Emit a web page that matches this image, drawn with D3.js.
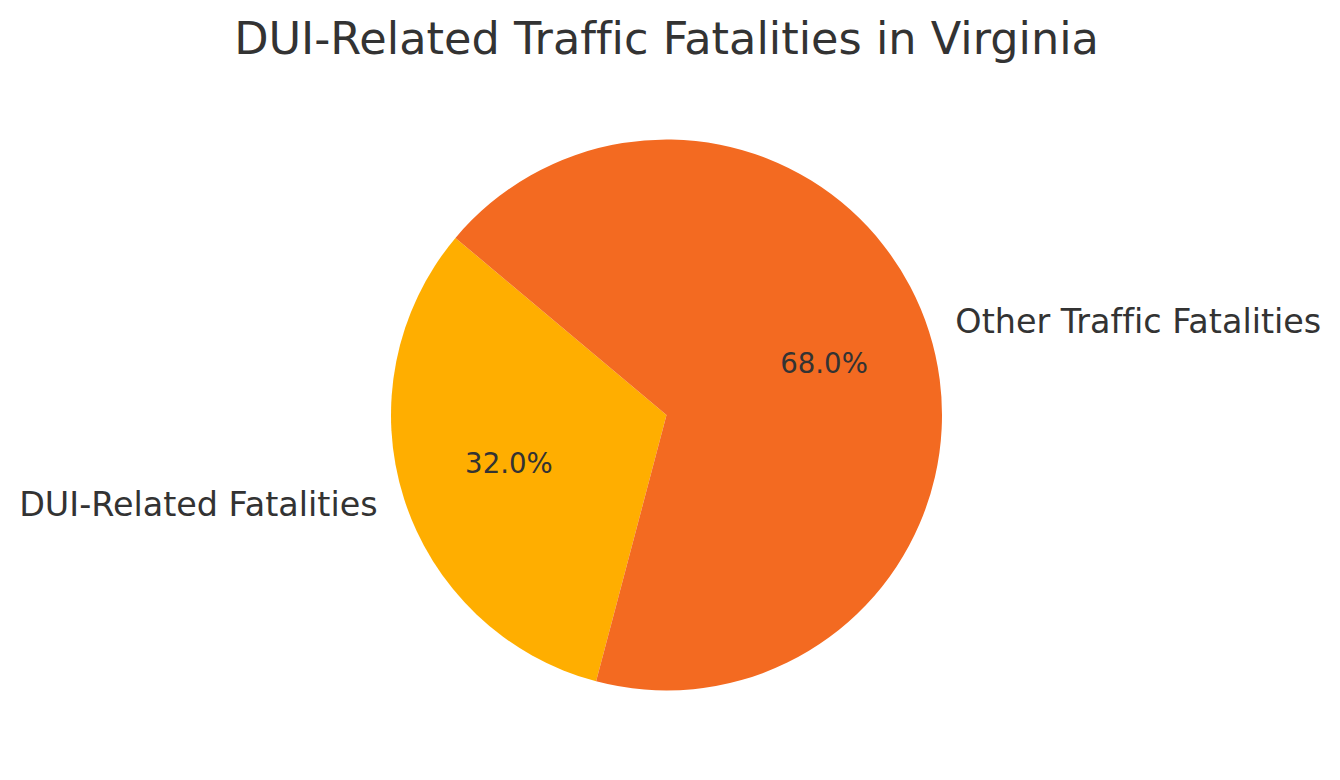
<!DOCTYPE html>
<html>
<head>
<meta charset="utf-8">
<script src="https://cdn.jsdelivr.net/npm/d3@7"></script>
<style>
  body { margin: 0; background: #fff; }
  text { font-family: "DejaVu Sans", sans-serif; fill: #333333; font-variant-ligatures: none; font-feature-settings: "liga" 0, "clig" 0; }
</style>
</head>
<body>
<svg width="1340" height="780"></svg>
<script>
// chart data
const categories = ["DUI-Related Fatalities", "Other Traffic Fatalities"];
const shares = [32, 68];
const sliceColors = ["#FFAE00", "#F36A21"];
const chartTitle = "DUI-Related Traffic Fatalities in Virginia";

function drawPie()
{
  let svg = d3.select("svg"),
    cx = 666.5,
    cy = 415,
    radius = 275.5,
    g = svg.append("g").attr("transform", "translate(" + cx + "," + cy + ")");

  let data = categories.map((c, i) => ({ label: c, value: shares[i] }));
  let total = d3.sum(shares);

  // matplotlib style: start at 140deg, counterclockwise
  let start = (90 - 140) * Math.PI / 180;
  let pie = d3.pie()
    .sort(null)
    .value(d => d.value)
    .startAngle(start)
    .endAngle(start - 2 * Math.PI);

  let color = d3.scaleOrdinal().domain(categories).range(sliceColors);

  let arc = d3.arc().innerRadius(0).outerRadius(radius);
  let pctArc = d3.arc().innerRadius(radius * 0.6).outerRadius(radius * 0.6);
  let labelArc = d3.arc().innerRadius(radius * 1.1).outerRadius(radius * 1.1);

  let slices = pie(data);

  g.selectAll(".slice")
    .data(slices)
    .enter().append("path")
    .attr("class", "slice")
    .attr("d", arc)
    .attr("fill", d => color(d.data.label));

  g.selectAll(".pct")
    .data(slices)
    .enter().append("text")
    .attr("class", "pct")
    .attr("transform", d => "translate(" + pctArc.centroid(d) + ")")
    .attr("text-anchor", "middle")
    .attr("dy", "0.29em")
    .style("font-size", "27.6px")
    .text(d => (d.data.value / total * 100).toFixed(1) + "%");

  g.selectAll(".label")
    .data(slices)
    .enter().append("text")
    .attr("class", "label")
    .attr("transform", d => "translate(" + labelArc.centroid(d) + ")")
    .attr("text-anchor", d => labelArc.centroid(d)[0] < 0 ? "end" : "start")
    .attr("dy", "0.285em")
    .style("font-size", "33.4px")
    .text(d => d.data.label);

  svg.append("text")
    .attr("x", cx)
    .attr("y", 54)
    .attr("text-anchor", "middle")
    .style("font-size", "44.6px")
    .text(chartTitle);
}

drawPie();
</script>
</body>
</html>
